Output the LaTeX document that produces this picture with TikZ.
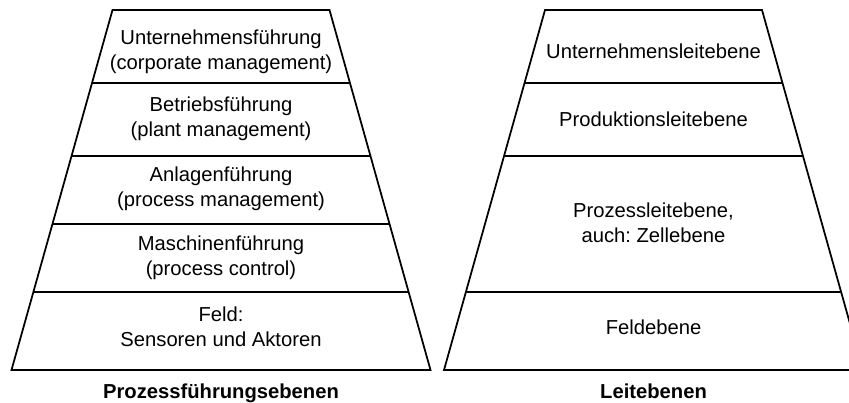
\documentclass[tikz,border=0pt]{standalone}
\usepackage{fontspec}
\setmainfont{Liberation Sans}
\frenchspacing
\usetikzlibrary{calc}
\newcommand\colorLayer{black}
\newcommand\pyramidTop{7.84}
\newcommand\pyramidBottom{0.64}
\newcommand\pyramidHeight{7.2}
\newcommand\pyramidTopHalfWidth{2.17}
\newcommand\pyramidBottomHalfWidth{4.19}
\newcommand\drawPyramid[3]{
	\coordinate (#1TL) at (#2-\pyramidTopHalfWidth,\pyramidTop);
	\coordinate (#1TR) at (#2+\pyramidTopHalfWidth,\pyramidTop);
	\coordinate (#1BL) at (#2-\pyramidBottomHalfWidth,\pyramidBottom);
	\coordinate (#1BR) at (#2+\pyramidBottomHalfWidth,\pyramidBottom);
	\draw[layerline] (#1TL) to (#1TR) to (#1BR) to (#1BL) to cycle;
	\foreach \y in {#3}{
		\draw[layerline]
			($(#1TL)!{(\pyramidTop-\y)/\pyramidHeight}!(#1BL)$) to
			($(#1TR)!{(\pyramidTop-\y)/\pyramidHeight}!(#1BR)$);
	}
}
\tikzset{
	layerline/.style={color=\colorLayer, line width=1pt},
	layertext/.style={align=center, inner sep=0pt, font=\fontsize{11.5}{14.4}\selectfont},
	pyramidtitle/.style={anchor=base, inner sep=0pt, font=\fontsize{11.5}{14.4}\selectfont\bfseries}
}

\begin{document}
\begin{tikzpicture}
		\useasboundingbox (0,0) rectangle (16.98,8.04);
		\clip (0,0) rectangle (16.98,8.04);

		\newcommand\fuehrungX{4.42}
		\newcommand\leitX{13.07}

		% Prozessfuehrungsebenen
		\drawPyramid{fuehrung}{\fuehrungX}{6.373,4.926,3.56,2.2}
		\node[layertext] (unternehmensfuehrung) at (\fuehrungX,7.0) {Unternehmensführung\\(corporate management)};
		\node[layertext] (betriebsfuehrung) at (\fuehrungX,5.66) {Betriebsführung\\(plant management)};
		\node[layertext] (anlagenfuehrung) at (\fuehrungX,4.26) {Anlagenführung\\(process management)};
		\node[layertext] (maschinenfuehrung) at (\fuehrungX,2.88) {Maschinenführung\\(process control)};
		\node[layertext] (feld) at (\fuehrungX,1.5) {Feld:\\Sensoren und Aktoren};
		\node[pyramidtitle] (titleFuehrung) at (\fuehrungX,0.08) {Prozessführungsebenen};

		% Leitebenen
		\drawPyramid{leit}{\leitX}{6.373,4.926,2.2}
		\node[layertext] (unternehmensleit) at (\leitX,7.02) {Unternehmensleitebene};
		\node[layertext] (produktionsleit) at (\leitX,5.66) {Produktionsleitebene};
		\node[layertext] (prozessleit) at (\leitX,3.58) {Prozessleitebene,\\auch: Zellebene};
		\node[layertext] (feldebene) at (\leitX,1.5) {Feldebene};
		\node[pyramidtitle] (titleLeit) at (\leitX,0.08) {Leitebenen};
	\end{tikzpicture}
\end{document}
